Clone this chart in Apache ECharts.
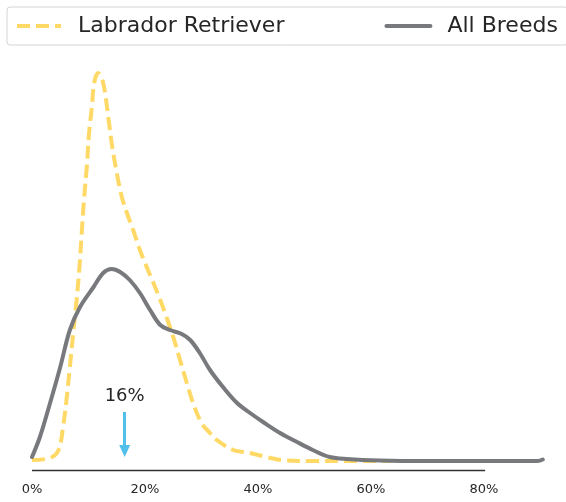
<!DOCTYPE html>
<html>
<head>
<meta charset="utf-8">
<script src="https://cdn.jsdelivr.net/npm/echarts@6/dist/echarts.min.js"></script>
<style>
  html, body { margin: 0; padding: 0; background: #fff; }
  #chart { width: 566px; height: 502px; }
</style>
</head>
<body>
<div id="chart"></div>
<script>
// x = share in %, y = relative density
const labradorData = [
  [0, 1], [3.2, 3], [4.7, 11], [5.5, 34], [6.1, 61], [6.7, 94], [7.3, 128],
  [7.9, 161], [8.4, 194], [8.8, 228], [9.2, 261], [9.7, 294], [10.1, 328],
  [10.6, 354], [11, 378], [11.7, 388], [12.6, 378], [13.5, 344], [14.1, 318],
  [15, 288], [15.9, 264], [16.8, 248], [17.9, 231], [19.1, 211], [20.3, 194],
  [21.5, 178], [22.7, 161], [23.8, 144], [25, 124], [26.2, 101], [27.4, 78],
  [28.5, 58], [30, 38], [31.5, 28], [32.7, 21], [35.6, 11], [38.6, 8],
  [41.5, 4], [44, 1], [50, 0], [56, 0], [63.5, 0]
]
const allBreedsData = [
  [0, 4], [1.4, 24], [3.2, 58], [5, 94], [6.7, 131], [8.5, 154], [10.9, 174],
  [12.6, 188], [14.1, 192], [15.6, 189], [17.3, 181], [19.1, 168], [20.9, 151],
  [22.7, 136], [24.4, 131], [26.5, 127], [28, 121], [29.7, 108], [31.5, 91],
  [33.8, 74], [36.3, 58], [38.6, 48], [40.9, 39], [43.9, 28], [46.9, 19],
  [49.7, 11], [52.7, 4], [55.7, 2], [61.6, 0.5], [70, 0], [80, 0], [89.5, 0],
  [90.4, 1.5]
]
const xTicks = [0, 20, 40, 60, 80]
const medianValue = 16.4
const medianLabel = '16%'

const font = 'DejaVu Sans'
const chart = echarts.init(document.getElementById('chart'))
const option = {
  animation: false,
  legend: {
    orient: 'horizontal',
    left: 7,
    top: 7,
    width: 800,
    padding: [6, 10, 6, 8],
    itemWidth: 44,
    itemHeight: 14,
    itemGap: 100,
    borderColor: '#d4d4d4',
    borderWidth: 1,
    borderRadius: 3,
    itemStyle: { color: 'transparent', borderColor: 'transparent', borderWidth: 0 },
    lineStyle: { width: 4 },
    textStyle: {
      fontFamily: font,
      fontSize: 22,
      color: '#262626',
      lineHeight: 26,
      padding: [0, 0, 0, 12]
    },
    data: ['Labrador Retriever', 'All Breeds']
  },
  grid: { left: 32, top: 60, width: 565, height: 410, outerBoundsMode: 'none', containLabel: false },
  xAxis: {
    type: 'value',
    min: 0,
    max: 100,
    interval: 20,
    axisLine: { show: false },
    axisTick: { show: false },
    splitLine: { show: false },
    axisLabel: {
      fontFamily: font,
      fontSize: 13,
      color: '#262626',
      margin: 13,
      formatter: function (v) {
        return xTicks.indexOf(v) >= 0 ? v + '%' : ''
      }
    }
  },
  yAxis: {
    type: 'value',
    min: -9,
    max: 401,
    show: false
  },
  series: [
    {
      name: 'Labrador Retriever',
      type: 'line',
      smooth: 0.35,
      symbol: 'none',
      clip: false,
      lineStyle: { color: '#FFD966', width: 4, type: [13, 6] },
      itemStyle: { color: '#FFD966' },
      data: labradorData
    },
    {
      name: 'All Breeds',
      type: 'line',
      smooth: 0.35,
      symbol: 'none',
      clip: false,
      lineStyle: { color: '#77797d', width: 4, cap: 'round' },
      itemStyle: { color: '#77797d' },
      data: allBreedsData,
      markLine: {
        silent: true,
        animation: false,
        data: [
          [
            { coord: [0, -9], symbol: 'none', lineStyle: { color: '#333', width: 1.4, type: 'solid' }, label: { show: false } },
            { coord: [80.2, -9], symbol: 'none' }
          ],
          [
            {
              coord: [medianValue, 49],
              symbol: 'none',
              lineStyle: { color: '#50BFEA', width: 3, type: 'solid' },
              label: {
                show: true,
                position: 'start',
                formatter: medianLabel,
                fontFamily: font,
                fontSize: 18,
                color: '#262626',
                distance: 7
              }
            },
            { coord: [medianValue, 10], symbol: 'triangle', symbolSize: [11, 12] }
          ]
        ]
      }
    }
  ]
}
chart.setOption(option)
</script>
</body>
</html>
